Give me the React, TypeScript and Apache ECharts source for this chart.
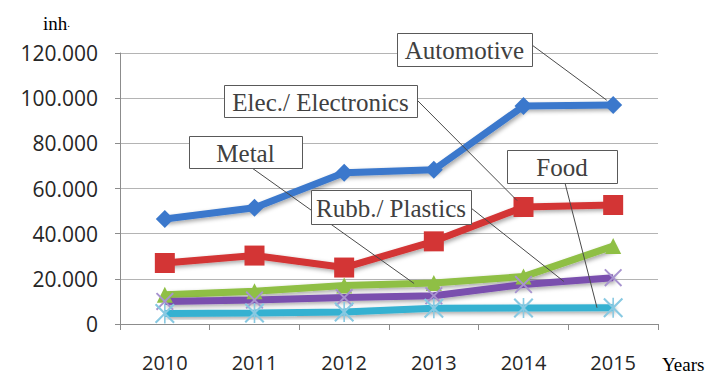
import React, { useEffect, useRef } from "react";
import * as echarts from "echarts";

const years = ["2010", "2011", "2012", "2013", "2014", "2015"];
const automotive = [46500, 51500, 67000, 68300, 96500, 97000];
const elecElectronics = [27000, 30300, 25000, 36600, 51800, 52700];
const metal = [13000, 14500, 17000, 18200, 21000, 34500];
const rubbPlastics = [10000, 10600, 11700, 12500, 17500, 20500];
const food = [4700, 4900, 5300, 7000, 7100, 7200];
const yMax = 120000;
const yStep = 20000;

const X_PATH = "path://M0,1.5 L1.5,0 L10,8.5 L18.5,0 L20,1.5 L11.5,10 L20,18.5 L18.5,20 L10,11.5 L1.5,20 L0,18.5 L8.5,10 Z";
const STAR_PATH = "path://M0,1.5 L1.5,0 L10,8.5 L18.5,0 L20,1.5 L11.5,10 L20,18.5 L18.5,20 L10,11.5 L1.5,20 L0,18.5 L8.5,10 Z M9.2,0 L10.8,0 L10.8,20 L9.2,20 Z";

const fmt = (v: number) => String(v).replace(/\B(?=(\d{3})+(?!\d))/g, ".");

const shadow = { shadowColor: "rgba(0,0,0,0.35)", shadowBlur: 4, shadowOffsetX: 2, shadowOffsetY: 2 };

export default function App() {
  const ref = useRef<HTMLDivElement>(null);
  useEffect(() => {
    const chart = echarts.init(ref.current!, null, { renderer: "svg" });
    const mk = (name: string, data: number[], color: string, symbol: string, size: number, symColor: string) => ({
      name,
      type: "line",
      data,
      symbol,
      symbolSize: size,
      lineStyle: { width: 7, color, ...shadow },
      itemStyle: { color: symColor },
      emphasis: { disabled: true },
    });
    chart.setOption({
      animation: false,
      grid: { left: 120, right: 50, top: 53, bottom: 52 },
      xAxis: {
        type: "category",
        data: years,
        boundaryGap: true,
        axisLine: { lineStyle: { color: "#8c8c8c", width: 1 } },
        axisTick: { show: true, length: 6, lineStyle: { color: "#8c8c8c" } },
        axisLabel: { margin: 28, fontFamily: "Open Sans", fontSize: 20, color: "#262626" },
      },
      yAxis: {
        type: "value",
        min: 0,
        max: yMax,
        interval: yStep,
        axisLine: { show: true, lineStyle: { color: "#8c8c8c", width: 1 } },
        axisTick: { show: true, length: 5, lineStyle: { color: "#8c8c8c" } },
        splitLine: { lineStyle: { color: "#b4b4b4", width: 1 } },
        axisLabel: { margin: 22, fontFamily: "Open Sans", fontSize: 21, color: "#262626", formatter: fmt },
      },
      series: [
        mk("Automotive", automotive, "#3b78cc", "diamond", 18, "#3b78cc"),
        mk("Elec./ Electronics", elecElectronics, "#d33535", "rect", 20, "#d33535"),
        mk("Metal", metal, "#8fbf45", "triangle", 16, "#8fbf45"),
        mk("Rubb./ Plastics", rubbPlastics, "#7a4fae", X_PATH, 18, "#a793cf"),
        mk("Food", food, "#35b1d1", STAR_PATH, 20, "#88c9e2"),
      ],
    });

    const pt = (si: number, i: number, t: number) => {
      const arrs = [automotive, elecElectronics, metal, rubbPlastics, food];
      const a = chart.convertToPixel({ seriesIndex: si }, [i, arrs[si][i]]) as number[];
      if (t === 0) return a;
      const b = chart.convertToPixel({ seriesIndex: si }, [i + 1, arrs[si][i + 1]]) as number[];
      return [a[0] + (b[0] - a[0]) * t, a[1] + (b[1] - a[1]) * t];
    };
    const shorten = (from: number[], to: number[], d: number) => {
      const dx = to[0] - from[0], dy = to[1] - from[1];
      const L = Math.sqrt(dx * dx + dy * dy);
      return [to[0] - (dx / L) * d, to[1] - (dy / L) * d];
    };

    const boxes = [
      { text: "Automotive", x: 397, y: 33, w: 135, h: 33, from: [532, 45], to: pt(0, 5, 0), cut: 8 },
      { text: "Elec./ Electronics", x: 224, y: 85, w: 193, h: 32, from: [417, 100], to: pt(1, 4, 0), cut: 9 },
      { text: "Metal", x: 189, y: 136, w: 113, h: 32, from: [252, 168], to: pt(2, 2, 0.78), cut: 0 },
      { text: "Rubb./ Plastics", x: 311, y: 190, w: 160, h: 34, from: [471, 208], to: pt(3, 4, 0.45), cut: 0 },
      { text: "Food", x: 507, y: 150, w: 110, h: 33, from: [565, 183], to: pt(4, 4, 0.82), cut: 0 },
    ];

    const graphics: any[] = [];
    boxes.forEach((b) => {
      const end = b.cut ? shorten(b.from, b.to, b.cut) : b.to;
      graphics.push({
        type: "line",
        z: 100,
        shape: { x1: b.from[0], y1: b.from[1], x2: end[0], y2: end[1] },
        style: { stroke: "#4a4a4a", lineWidth: 1 },
      });
      graphics.push({
        type: "rect",
        z: 101,
        shape: { x: b.x + 0.5, y: b.y + 0.5, width: b.w, height: b.h },
        style: { fill: "#ffffff", stroke: "#595959", lineWidth: 1 },
      });
      graphics.push({
        type: "text",
        z: 102,
        x: b.x + b.w / 2,
        y: b.y + b.h / 2 + 1,
        style: {
          text: b.text,
          fontFamily: "Liberation Serif",
          fontSize: 25,
          fill: "#404040",
          align: "center",
          verticalAlign: "middle",
        },
      });
    });
    graphics.push({
      type: "text",
      x: 43,
      y: 23,
      style: {
        text: "{a|inh}{b|.}",
        rich: {
          a: { fontFamily: "Liberation Serif", fontSize: 19, fill: "#000" },
          b: { fontFamily: "Liberation Serif", fontSize: 11, fill: "#000" },
        },
        verticalAlign: "middle",
      },
    });
    graphics.push({
      type: "text",
      x: 662,
      y: 364,
      style: {
        text: "Years",
        fontFamily: "Liberation Serif",
        fontSize: 19,
        fill: "#000",
        verticalAlign: "middle",
      },
    });
    chart.setOption({ graphic: graphics });
    return () => chart.dispose();
  }, []);
  return <div ref={ref} style={{ position: "fixed", left: 0, top: 0, width: 708, height: 376, background: "#fff" }} />;
}
